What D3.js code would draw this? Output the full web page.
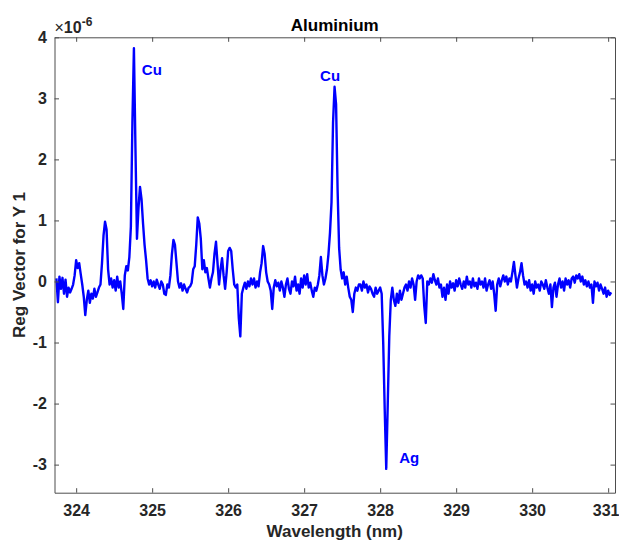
<!DOCTYPE html>
<html>
<head>
<meta charset="utf-8">
<script src="https://cdn.jsdelivr.net/npm/d3@7"></script>
<style>
  html, body { margin: 0; padding: 0; background: #ffffff; }
  svg { display: block; }
  text { font-family: "Liberation Sans", Arial, Helvetica, sans-serif; }
</style>
</head>
<body>
<svg id="chart" width="619" height="543"></svg>
<script>
// ---- data (Reg Vector values in units of 1e-6) ----
const chartTitle = "Aluminium";
const xLabel = "Wavelength (nm)";
const yLabel = "Reg Vector for Y 1";
const exponentLabel = "-6";
const wavelengthStart = 323.74;   // nm, first sample
const wavelengthStep = 0.02;      // nm, sampling interval
const regVector = [
  0.05, -0.34, 0.08, -0.12, 0.06, -0.2, 0.03, -0.25, -0.1, -0.18,
  -0.12, -0.05, 0.1, 0.35, 0.22, 0.3, 0.12, -0.05, -0.25, -0.55,
  -0.3, -0.15, -0.35, -0.2, -0.28, -0.12, -0.25, -0.18, -0.1, -0.05,
  0.3, 0.75, 0.98, 0.85, 0.2, -0.05, 0.05, -0.1, 0.02, -0.15,
  0.08, -0.1, 0.0, -0.2, -0.45, 0.1, 0.25, 0.18, 0.4, 0.9,
  2.6, 3.82, 2.2, 0.7, 1.2, 1.55, 1.35, 0.95, 0.6, 0.35,
  0.05, -0.05, 0.02, -0.08, 0.0, -0.1, 0.03, -0.05, -0.12, 0.0,
  -0.05, -0.2, -0.22, -0.05, -0.1, 0.1, 0.45, 0.68, 0.6, 0.3,
  0.0, -0.1, -0.03, -0.15, -0.05, -0.12, -0.18, -0.1, -0.08, -0.02,
  0.2, 0.25, 0.6, 1.05, 0.95, 0.7, 0.2, 0.35, 0.15, 0.22,
  0.05, -0.1, 0.05, 0.15, 0.45, 0.65, 0.3, -0.05, 0.2, 0.38,
  0.1, -0.12, 0.15, 0.5, 0.55, 0.5, 0.2, -0.05, -0.1, -0.05,
  -0.6, -0.9, -0.2, -0.1, -0.02, -0.12, 0.0, -0.08, 0.05, -0.05,
  0.05, -0.1, 0.0, -0.08, 0.15, 0.3, 0.58, 0.45, 0.15, 0.0,
  -0.05, -0.15, -0.45, -0.1, 0.02, -0.08, -0.02, -0.15, 0.0, -0.1,
  -0.25, -0.05, 0.05, -0.12, -0.2, 0.0, -0.08, 0.08, -0.15, -0.05,
  -0.2, 0.05, -0.1, 0.1, -0.05, 0.12, -0.1, -0.02, -0.15, -0.25,
  -0.1, -0.15, -0.05, 0.1, 0.4, 0.1, -0.05, 0.05, 0.2, 0.45,
  0.8, 1.3, 2.6, 3.19, 2.9, 1.5, 0.55, 0.2, 0.05, 0.15,
  -0.05, 0.08, -0.1, -0.25, -0.3, -0.5, -0.2, -0.1, -0.15, -0.05,
  -0.05, -0.15, 0.0, -0.1, -0.05, -0.18, -0.08, -0.12, -0.2, -0.25,
  -0.1, -0.2, -0.15, -0.1, -0.2, -1.0, -2.1, -3.07, -2.0, -0.9,
  -0.3, -0.1, -0.3, -0.4, -0.2, -0.35, -0.15, -0.3, -0.2, -0.1,
  -0.05, -0.15, 0.0, -0.1, 0.05, -0.05, -0.3, 0.0, 0.1, 0.05,
  0.1, 0.05, -0.4, -0.68, 0.0, -0.05, 0.05, -0.02, 0.12, 0.02,
  -0.05, 0.05, -0.1, -0.05, -0.25, -0.1, -0.3, -0.05, -0.2, 0.0,
  -0.1, -0.03, -0.15, 0.02, -0.08, 0.05, -0.05, -0.12, 0.0, -0.1,
  0.08, -0.05, 0.0, -0.1, 0.05, -0.08, -0.02, -0.12, 0.05, -0.05,
  0.0, -0.1, 0.05, -0.15, -0.05, 0.02, -0.12, 0.0, -0.2, -0.48,
  -0.05, 0.05, -0.08, 0.02, 0.1, 0.0, 0.08, -0.05, 0.05, 0.0,
  0.15, 0.32, 0.1, -0.1, 0.05, 0.15, 0.3, 0.1, -0.05, 0.0,
  -0.1, 0.02, -0.15, -0.05, -0.2, 0.0, -0.1, -0.05, -0.15, 0.0,
  -0.05, -0.12, 0.02, -0.1, -0.2, -0.05, -0.42, -0.1, -0.02, -0.25,
  -0.05, 0.05, -0.1, 0.0, -0.15, 0.05, -0.05, 0.02, -0.1, 0.05,
  0.08, -0.02, 0.1, 0.05, 0.12, 0.0, 0.08, -0.05, 0.02, -0.08,
  0.0, -0.1, -0.05, -0.35, 0.0, -0.08, -0.02, -0.15, -0.05, -0.12,
  -0.2, -0.1, -0.25, -0.15, -0.22, -0.18
];
const xTicks = [324, 325, 326, 327, 328, 329, 330, 331];
const yTicks = [-3, -2, -1, 0, 1, 2, 3, 4];
const xDomain = [323.715, 331.09];
const yDomain = [-3.46, 4];
// peak annotations, anchored in data coordinates (wavelength, value)
const annotationLabels = ["Cu", "Cu", "Ag"];
const annotationWavelengths = [324.864, 327.21, 328.25];
const annotationValues = [3.38, 3.29, -2.97];

// ---- layout ----
const svg = d3.select("#chart");
const plot = { left: 54.5, right: 615, top: 37.3, bottom: 492.7 };
const x = d3.scaleLinear().domain(xDomain).range([plot.left, plot.right]);
const y = d3.scaleLinear().domain(yDomain).range([plot.bottom, plot.top]);
const axisColor = "#262626";
const lineColor = "#0000ff";
const fontStack = '"Liberation Sans", Arial, Helvetica, sans-serif';

svg.append("rect").attr("width", 619).attr("height", 543).attr("fill", "#ffffff");

// clip
svg.append("clipPath").attr("id", "plotclip")
  .append("rect")
  .attr("x", plot.left).attr("y", plot.top)
  .attr("width", plot.right - plot.left).attr("height", plot.bottom - plot.top);

// data series
const points = regVector.map((v, i) => ({ w: wavelengthStart + i * wavelengthStep, v }));
const line = d3.line().x(d => x(d.w)).y(d => y(d.v));
svg.append("path")
  .datum(points)
  .attr("clip-path", "url(#plotclip)")
  .attr("fill", "none")
  .attr("stroke", lineColor)
  .attr("stroke-width", 2.4)
  .attr("stroke-linejoin", "round")
  .attr("d", line);

// axes
const tick = 4.5;
function styleAxis(g) {
  g.selectAll(".domain").attr("stroke", "#4d4d4d").attr("stroke-width", 1);
  g.selectAll(".tick line").attr("stroke", "#4d4d4d").attr("stroke-width", 1);
  g.selectAll(".tick text")
    .attr("fill", axisColor)
    .style("font-family", fontStack)
    .style("font-size", "16px")
    .style("font-weight", "bold");
}
const fmt = d => String(d);

const xAxisG = svg.append("g")
  .attr("transform", `translate(0,${plot.bottom})`)
  .call(d3.axisBottom(x).tickValues(xTicks).tickFormat(fmt).tickSizeInner(-tick).tickSizeOuter(0).tickPadding(11.5))
  .call(styleAxis);
// keep the last label inside the window edge
xAxisG.selectAll(".tick text").filter(d => d === xTicks[xTicks.length - 1]).attr("dx", -2.5);

svg.append("g")
  .attr("transform", `translate(0,${plot.top})`)
  .call(d3.axisTop(x).tickValues(xTicks).tickFormat("").tickSizeInner(-tick).tickSizeOuter(0))
  .call(styleAxis);

svg.append("g")
  .attr("transform", `translate(${plot.left},0)`)
  .call(d3.axisLeft(y).tickValues(yTicks).tickFormat(fmt).tickSizeInner(-tick).tickSizeOuter(0).tickPadding(7.5))
  .call(styleAxis);

svg.append("g")
  .attr("transform", `translate(${plot.right},0)`)
  .call(d3.axisRight(y).tickValues(yTicks).tickFormat("").tickSizeInner(-tick).tickSizeOuter(0))
  .call(styleAxis);

svg.selectAll("g").attr("font-family", null).attr("font-size", null);

// title
svg.append("text")
  .attr("x", (plot.left + plot.right) / 2)
  .attr("y", 31)
  .attr("text-anchor", "middle")
  .attr("fill", "#000000")
  .style("font-size", "17px")
  .style("font-weight", "bold")
  .text(chartTitle);

// exponent label
const expo = svg.append("text")
  .attr("x", plot.left)
  .attr("y", 32.5)
  .attr("fill", axisColor)
  .style("font-size", "16px");
expo.append("tspan").style("font-weight", "normal").text("\u00d7");
expo.append("tspan").style("font-weight", "bold").text("10");
expo.append("tspan").attr("dy", -7).style("font-size", "12px").style("font-weight", "bold").text(exponentLabel);

// axis labels
svg.append("text")
  .attr("x", (plot.left + plot.right) / 2)
  .attr("y", 537)
  .attr("text-anchor", "middle")
  .attr("fill", axisColor)
  .style("font-size", "17px")
  .style("font-weight", "bold")
  .text(xLabel);

svg.append("text")
  .attr("transform", `translate(25,${(plot.top + plot.bottom) / 2}) rotate(-90)`)
  .attr("text-anchor", "middle")
  .attr("fill", axisColor)
  .style("font-size", "17px")
  .style("font-weight", "bold")
  .text(yLabel);

// annotations
svg.selectAll("text.anno")
  .data(annotationLabels.map((t, i) => ({ t, w: annotationWavelengths[i], v: annotationValues[i] })))
  .join("text")
  .attr("class", "anno")
  .attr("x", d => x(d.w))
  .attr("y", d => y(d.v))
  .attr("fill", lineColor)
  .style("font-size", "15px")
  .style("font-weight", "bold")
  .text(d => d.t);
</script>
</body>
</html>
